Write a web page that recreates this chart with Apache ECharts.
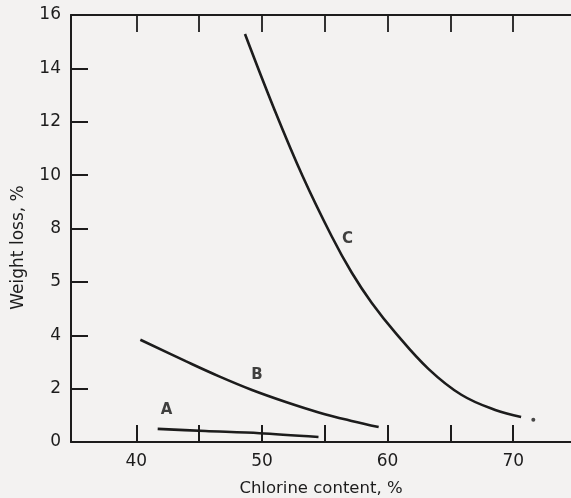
<!DOCTYPE html>
<html>
<head>
<meta charset="utf-8">
<script src="https://cdn.jsdelivr.net/npm/echarts@6/dist/echarts.min.js"></script>
<style>
html,body{margin:0;padding:0;background:#f3f2f1;}
#c{width:571px;height:498px;}
</style>
</head>
<body>
<div id="c"></div>
<script>
// Curve data: [chlorine content %, weight loss %]
const curveA = [[41.7,0.49],[45.5,0.41],[49.8,0.33],[54.5,0.19]];
const curveB = [[40.32,3.83],[43.97,3.02],[46.59,2.46],[49.21,1.95],[51.9,1.5],[54.52,1.11],[57.14,0.79],[59.29,0.56]];
const curveC = [[48.65,15.29],[50.95,12.51],[53.25,9.95],[55.56,7.70],[57.14,6.35],[58.73,5.22],[60.63,4.09],[63.25,2.74],[65.87,1.77],[68.57,1.20],[70.63,0.94]];
const endDot = [[71.6,0.83]];
const curveLabels = [[42.4,1.2,'A'],[49.6,2.5,'B'],[56.8,7.6,'C']];
const xTicks = [40,45,50,55,60,65,70];
const xTickLabels = [40,50,60,70];
const yTicks = [0,2,4,6,8,10,12,14,16];
const yTickLabels = ['0','2','4','5','8','10','12','14','16'];

const ink = '#1c1c1c';
const font = 'DejaVu Sans';
const chart = echarts.init(document.getElementById('c'));
chart.setOption({
  backgroundColor: '#f3f2f1',
  animation: false,
  grid: {left: 71, right: 0, top: 15, bottom: 56, containLabel: false, outerBoundsMode: 'none'},
  xAxis: [{
    type: 'value', min: 34.8, max: 74.6, position: 'bottom',
    axisLine: {show: true, lineStyle: {color: ink, width: 2}},
    axisTick: {show: true, inside: true, length: 17, customValues: xTicks, lineStyle: {color: ink, width: 2}},
    axisLabel: {show: true, customValues: xTickLabels, color: ink, fontFamily: font, fontSize: 17, margin: 11},
    splitLine: {show: false},
    name: 'Chlorine content, %', nameLocation: 'middle', nameGap: 38,
    nameTextStyle: {color: ink, fontFamily: font, fontSize: 16.5}
  },{
    type: 'value', min: 34.8, max: 74.6, position: 'top',
    axisLine: {show: true, lineStyle: {color: ink, width: 2}},
    axisTick: {show: true, inside: true, length: 17, customValues: xTicks, lineStyle: {color: ink, width: 1.8}},
    axisLabel: {show: false},
    splitLine: {show: false}
  }],
  yAxis: {
    type: 'value', min: 0, max: 16, interval: 2,
    axisLine: {show: true, lineStyle: {color: ink, width: 2}},
    axisTick: {show: true, inside: true, length: 17, lineStyle: {color: ink, width: 2}},
    axisLabel: {color: ink, fontFamily: font, fontSize: 17, margin: 10,
      formatter: v => yTickLabels[yTicks.indexOf(v)]},
    splitLine: {show: false},
    name: 'Weight loss, %', nameLocation: 'middle', nameGap: 44,
    nameTextStyle: {color: ink, fontFamily: font, fontSize: 17, padding: [0, 38, 0, 0]}
  },
  series: [
    {type: 'line', data: curveA, smooth: 0.3, symbol: 'none', lineStyle: {color: ink, width: 2.6}},
    {type: 'line', data: curveB, smooth: 0.4, symbol: 'none', lineStyle: {color: ink, width: 2.6}},
    {type: 'line', data: curveC, smooth: 0.4, symbol: 'none', lineStyle: {color: ink, width: 2.6}},
    {type: 'scatter', data: endDot, symbolSize: 4, itemStyle: {color: ink}},
    {type: 'scatter', data: curveLabels, symbolSize: 0,
      label: {show: true, position: 'inside', formatter: p => p.data[2], color: '#111', fontFamily: font, fontSize: 15, fontWeight: 'bold', textBorderWidth: 0}}
  ]
});
</script>
</body>
</html>
